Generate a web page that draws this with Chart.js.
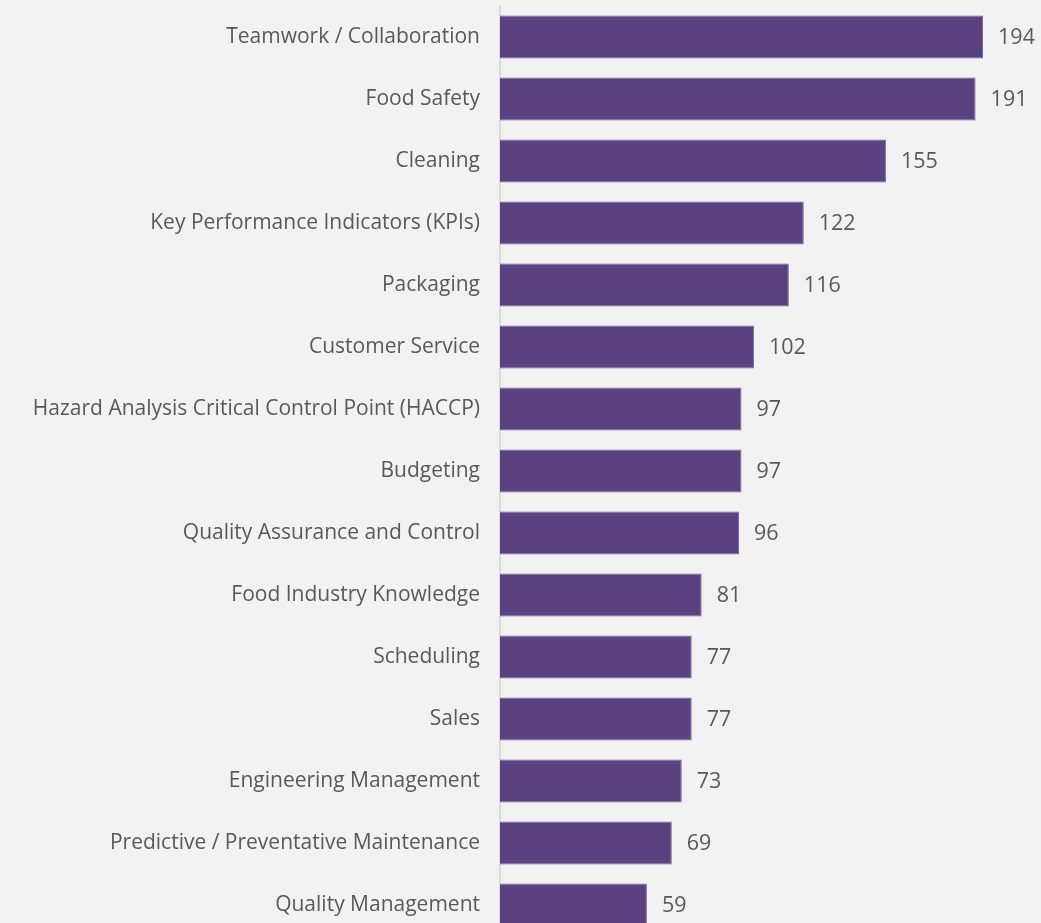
<!DOCTYPE html>
<html>
<head>
<meta charset="utf-8">
<script src="https://cdn.jsdelivr.net/npm/chart.js@4"></script>
<style>
  html, body { margin: 0; padding: 0; background: #f2f2f2; overflow: hidden; }
  canvas { display: block; }
</style>
</head>
<body>
<canvas id="skillsChart" width="1041" height="940"></canvas>
<script>
//=[ Data ]=====================================================================

const skillLabels = [
  "Teamwork / Collaboration",
  "Food Safety",
  "Cleaning",
  "Key Performance Indicators (KPIs)",
  "Packaging",
  "Customer Service",
  "Hazard Analysis Critical Control Point (HACCP)",
  "Budgeting",
  "Quality Assurance and Control",
  "Food Industry Knowledge",
  "Scheduling",
  "Sales",
  "Engineering Management",
  "Predictive / Preventative Maintenance",
  "Quality Management",
];

const skillCounts = [194, 191, 155, 122, 116, 102, 97, 97, 96, 81, 77, 77, 73, 69, 59];

//=[ Value labels ]=============================================================

const valueLabels = {
  id: "valueLabels",
  afterDatasetsDraw(chart) {
    const ctx = chart.ctx;
    const meta = chart.getDatasetMeta(0);
    ctx.save();
    ctx.font = "21.5px 'Open Sans'";
    ctx.fillStyle = "#595959";
    ctx.textAlign = "left";
    ctx.textBaseline = "middle";
    meta.data.forEach((bar, i) => {
      ctx.fillText(String(skillCounts[i]), bar.x + 15, bar.y + 1);
    });
    ctx.restore();
  },
};

//=[ Chart ]====================================================================

const skillsConfig = {
  type: "bar",
  data: {
    labels: skillLabels,
    datasets: [
      {
        data: skillCounts,
        backgroundColor: "#5a4180",
        borderColor: "#7a64a0",
        borderWidth: 1,
        barPercentage: 0.69,
        categoryPercentage: 1,
      },
    ],
  },
  options: {
    indexAxis: "y",
    responsive: false,
    animation: false,
    layout: {
      padding: { top: 6, bottom: 4, right: 43, left: 0 },
    },
    scales: {
      x: {
        display: false,
        min: 0,
        max: 200,
      },
      y: {
        // fixed label column; drop the label overhang padding top/bottom
        afterFit: (scale) => {
          scale.width = 500;
          scale.paddingTop = 0;
          scale.paddingBottom = 0;
        },
        grid: { display: false, drawTicks: false },
        border: { color: "#d9d9d9", width: 2 },
        ticks: {
          padding: 20,
          color: "#595959",
          font: { family: "'Open Sans'", size: 21 },
        },
      },
    },
    plugins: {
      legend: { display: false },
      tooltip: { enabled: false },
    },
  },
  plugins: [valueLabels],
};

new Chart(document.getElementById("skillsChart"), skillsConfig);
</script>
</body>
</html>
